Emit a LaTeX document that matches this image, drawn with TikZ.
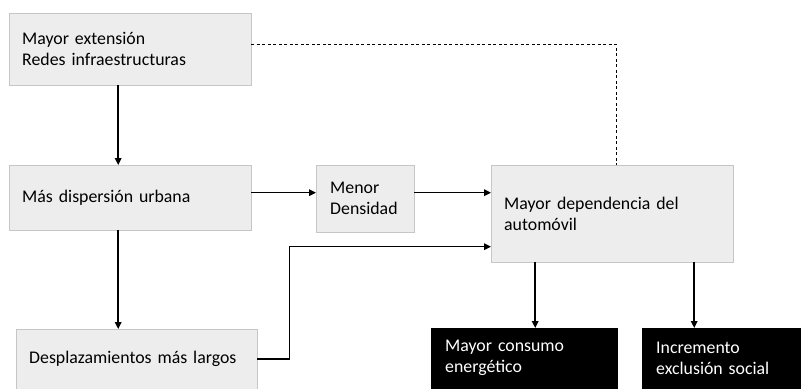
\documentclass[tikz,border=0pt]{standalone}
\usepackage{fontspec}
\setmainfont{Carlito}
\usetikzlibrary{arrows.meta}

\tikzset{
    greybox/.style={draw=gray!45, fill=gray!14, anchor=north west, inner xsep=13pt,
        align=left, text width=#1},
    blackbox/.style={draw=black, fill=black, text=white, anchor=north west, inner xsep=14pt,
        align=left, text width=#1},
    link/.style={-{Triangle[length=7pt,width=6.5pt]}, line width=1.5pt},
}

\begin{document}
\begin{tikzpicture}[x=1pt, y=-1pt, font=\fontsize{17.8}{21}\selectfont]

    \useasboundingbox (0,0) rectangle (802,388);

    % Step 1: left column
    \node[greybox=216pt, minimum height=72pt] (ext) at (9,13)
        {Mayor extensión\\Redes infraestructuras};
    \node[greybox=216pt, minimum height=65pt] (disp) at (9,165)
        {Más dispersión urbana};
    \node[greybox=215pt, minimum height=60pt] (desp) at (16,329)
        {Desplazamientos más largos};

    % Step 2: middle and right boxes
    \node[greybox=70pt, minimum height=67pt, inner xsep=14pt] (dens) at (316,165)
        {Menor\\Densidad};
    \node[greybox=216pt, minimum height=97pt] (auto) at (491,165)
        {Mayor dependencia del\\automóvil};

    % Step 3: consequences (black boxes)
    \node[blackbox=158pt, minimum height=60pt] (energ) at (431,328)
        {Mayor consumo\\energético};
    \node[blackbox=130pt, minimum height=60pt] (excl) at (642,328)
        {Incremento\\exclusión social};

    % Connectors
    \draw[link] ([xshift=-12pt]ext.south) -- ([xshift=-12pt]disp.north);
    \draw[link] ([xshift=-12pt]disp.south) -- ([xshift=-12pt]disp.south |- desp.north);
    \draw[link] ([yshift=6pt]dens.west -| disp.east) -- ([yshift=6pt]dens.west);
    \draw[link] ([yshift=6pt]dens.east) -- ([yshift=6pt]dens.east -| auto.west);
    \draw[link] (desp.east) -- ++(32,0) |- ([yshift=-33pt]auto.west);
    \draw[dashed, line width=1pt, dash pattern=on 3pt off 2.5pt]
        ([yshift=5pt]ext.east) -| ([xshift=4pt]auto.north);
    \draw[link] ([xshift=11pt]energ.north |- auto.south) -- ([xshift=11pt]energ.north);
    \draw[link] ([xshift=-27pt]excl.north |- auto.south) -- ([xshift=-27pt]excl.north);

\end{tikzpicture}
\end{document}
